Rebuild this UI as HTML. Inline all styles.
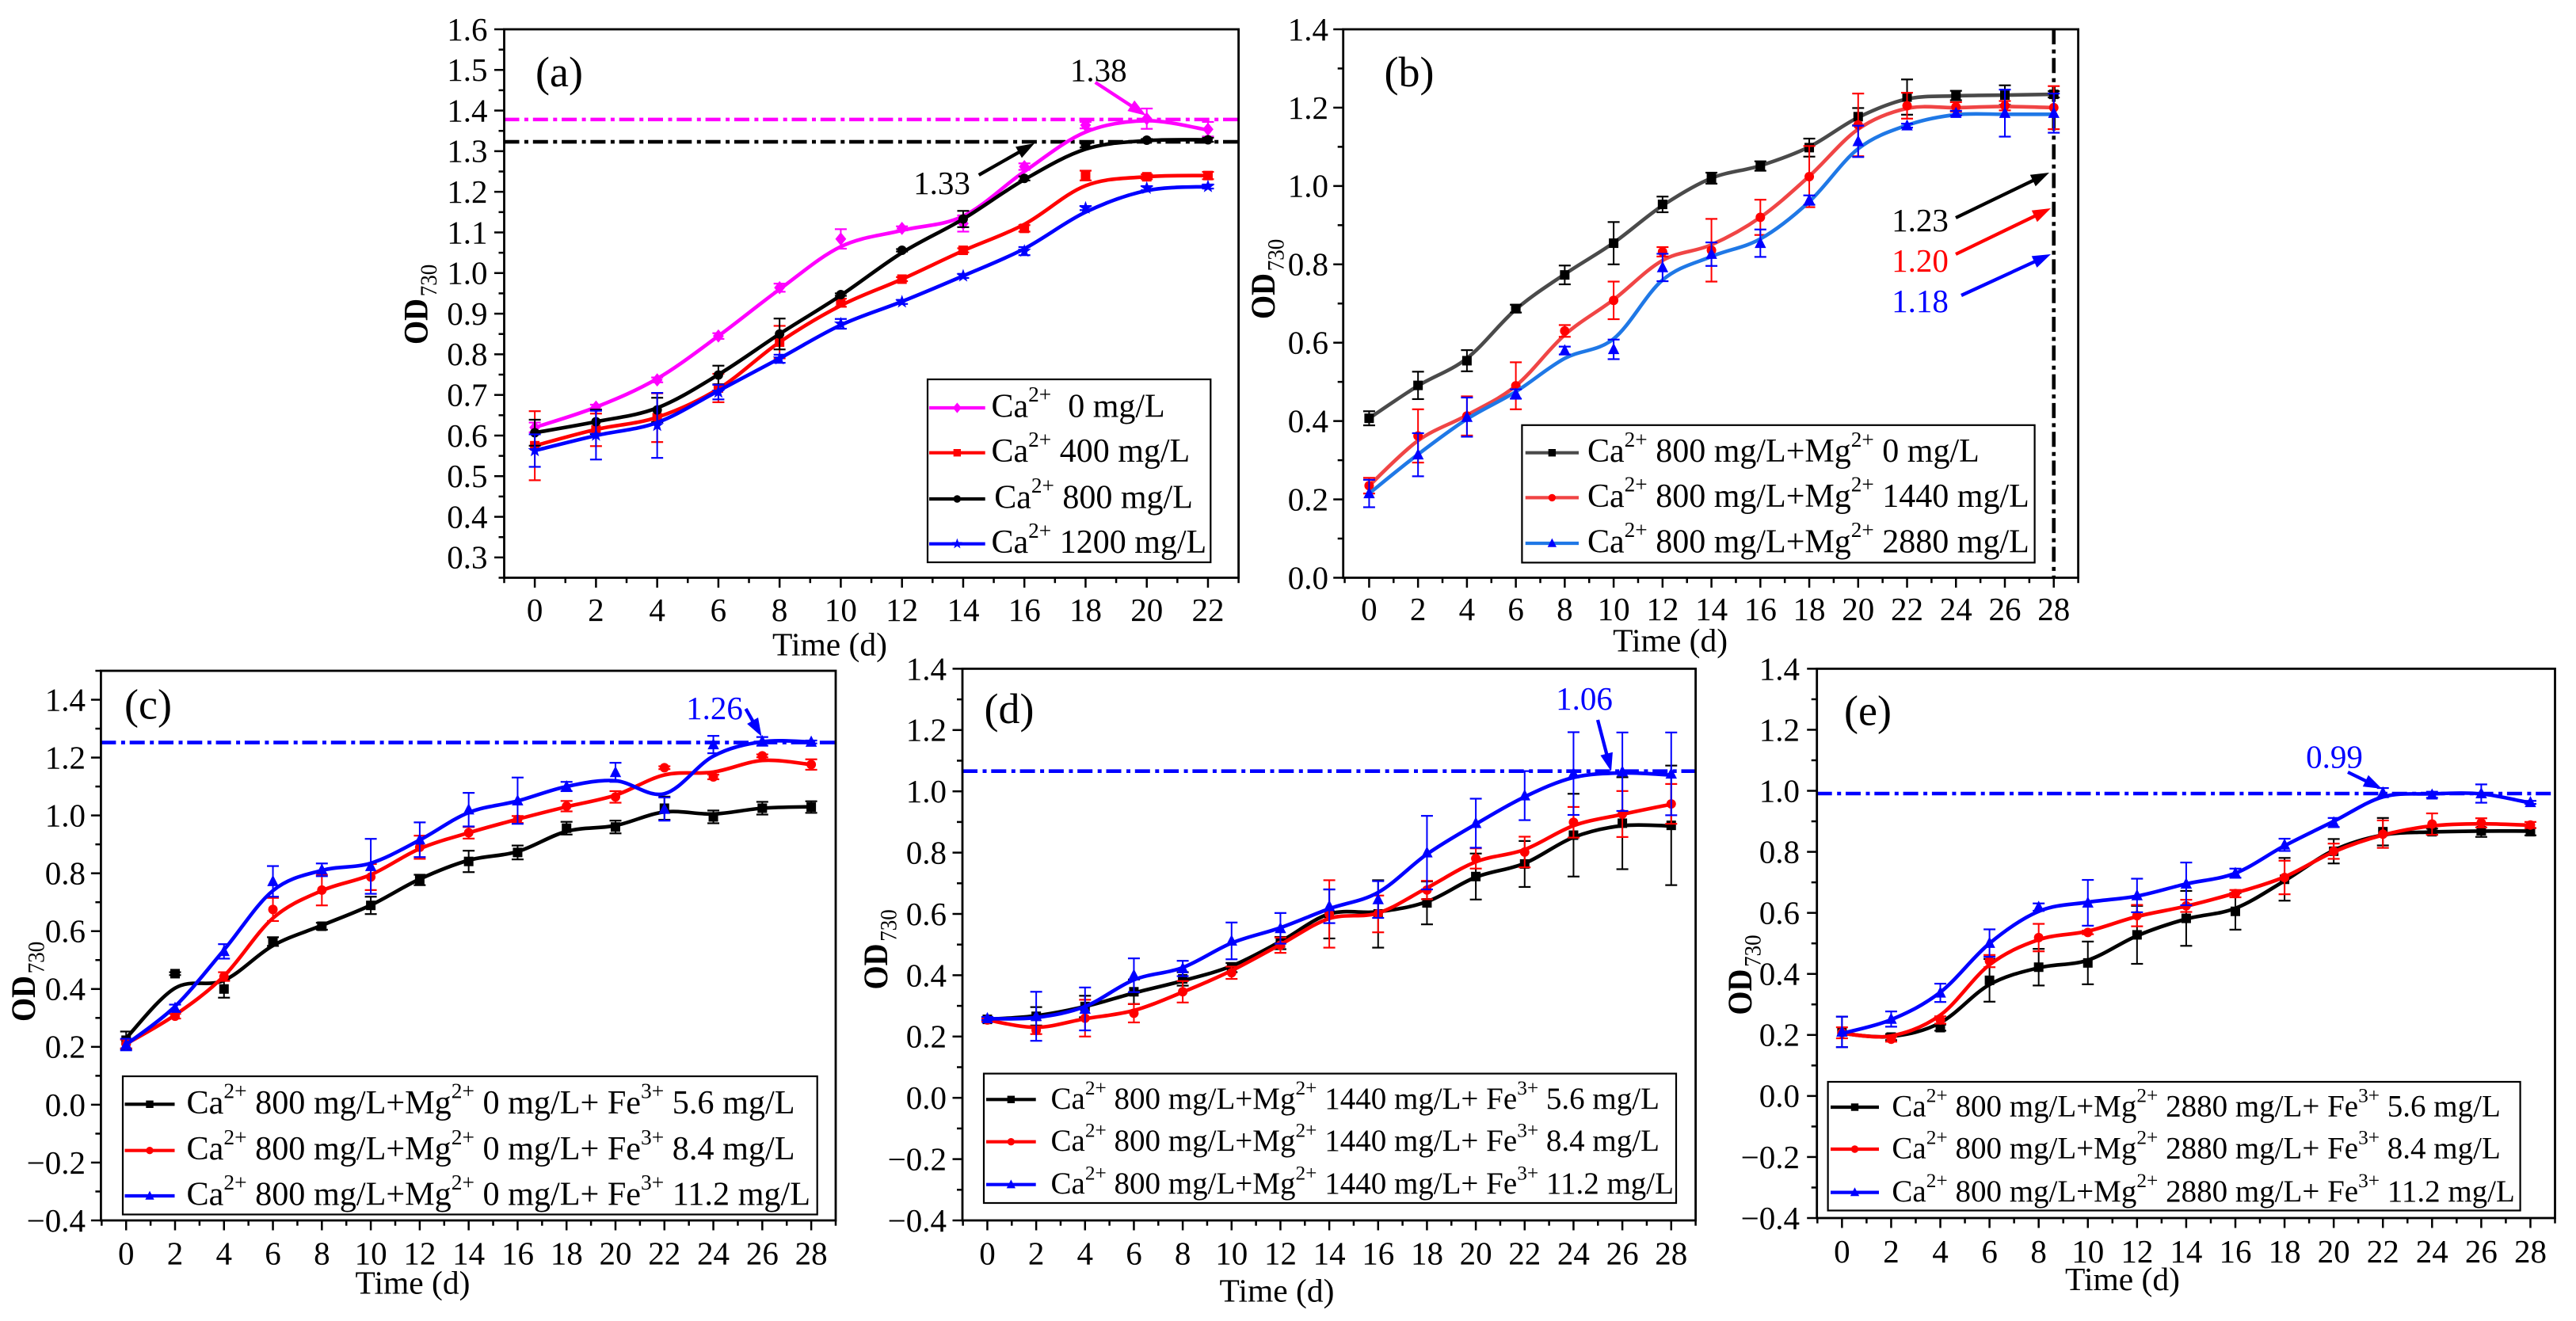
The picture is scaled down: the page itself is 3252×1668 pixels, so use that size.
<!DOCTYPE html>
<html lang="en">
<head>
<meta charset="utf-8">
<title>OD730 growth curves</title>
<style>
html,body{margin:0;padding:0;background:#fff;width:3252px;height:1668px;overflow:hidden}
svg{display:block;position:absolute;left:0;top:0}
text{font-family:"Liberation Serif","Times New Roman",serif;white-space:pre}
</style>
</head>
<body>
<svg id="fig" xmlns="http://www.w3.org/2000/svg" width="3252" height="1668" viewBox="0 0 3252 1668"></svg>
<script>
// ---------- shared categories ----------
const daysA = [0,2,4,6,8,10,12,14,16,18,20,22];
const daysLong = [0,2,4,6,8,10,12,14,16,18,20,22,24,26,28];
const yTicksA = ['0.3','0.4','0.5','0.6','0.7','0.8','0.9','1.0','1.1','1.2','1.3','1.4','1.5','1.6'];
const yTicksB = ['0.0','0.2','0.4','0.6','0.8','1.0','1.2','1.4'];
const yTicksC = ['\u22120.4','\u22120.2','0.0','0.2','0.4','0.6','0.8','1.0','1.2','1.4'];

// ---------- panel (a) ----------
const aMagentaVal = [.62,.67,.737,.845,.964,1.084,1.11,1.122,1.262,1.364,1.38,1.354];
const aMagentaFit = [.62,.67,.74,.845,.96,1.065,1.105,1.14,1.25,1.347,1.375,1.352];
const aMagentaErr = [.012,.006,.006,.007,.01,.024,.005,.02,.008,.008,.025,.018];
const aRedVal = [.575,.614,.644,.717,.83,.927,.985,1.056,1.11,1.24,1.237,1.24];
const aRedFit = [.575,.615,.645,.715,.83,.92,.985,1.055,1.12,1.215,1.237,1.24];
const aRedErr = [.085,.04,.06,.035,.04,.01,.005,.005,.008,.012,.006,.009];
const aBlackVal = [.607,.634,.663,.749,.85,.947,1.056,1.133,1.233,1.314,1.327,1.328];
const aBlackFit = [.607,.634,.668,.75,.85,.945,1.05,1.133,1.23,1.305,1.326,1.328];
const aBlackErr = [.032,.03,.03,.023,.038,.003,.003,.02,.005,.005,.003,.005];
const aBlueVal = [.563,.601,.625,.707,.789,.875,.929,.993,1.054,1.16,1.209,1.213];
const aBlueFit = [.563,.6,.632,.71,.79,.872,.93,.993,1.06,1.15,1.203,1.213];
const aBlueErr = [.04,.06,.08,.018,.01,.012,.005,.005,.01,.005,.005,.005];

// ---------- panel (b) ----------
const bBlackVal = [.407,.491,.554,.687,.773,.854,.953,1.02,1.051,1.098,1.177,1.227,1.231,1.232,1.234];
const bBlackFit = [.407,.49,.56,.685,.775,.855,.95,1.02,1.052,1.1,1.175,1.222,1.23,1.232,1.234];
const bBlackErr = [.018,.035,.027,.01,.024,.054,.02,.014,.012,.023,.022,.045,.012,.025,.008];
const bRedVal = [.235,.362,.413,.49,.63,.708,.832,.836,.92,1.024,1.156,1.205,1.202,1.205,1.2];
const bRedFit = [.235,.35,.415,.49,.62,.71,.81,.85,.92,1.025,1.145,1.198,1.2,1.203,1.2];
const bRedErr = [.02,.068,.05,.06,.015,.048,.012,.08,.045,.078,.08,.033,.012,.012,.055];
const bBlueVal = [.215,.314,.41,.469,.58,.583,.792,.826,.854,.964,1.114,1.154,1.186,1.186,1.186];
const bBlueFit = [.215,.315,.405,.475,.56,.61,.76,.82,.865,.96,1.095,1.155,1.182,1.183,1.183];
const bBlueErr = [.035,.055,.05,.012,.01,.025,.035,.03,.035,.012,.04,.005,.006,.06,.05];

// ---------- panel (c) ----------
const cBlackVal = [.223,.453,.4,.564,.617,.689,.777,.841,.872,.956,.96,1.025,.995,1.025,1.029];
const cBlackFit = [.23,.403,.43,.55,.62,.69,.78,.845,.875,.945,.965,1.012,1.005,1.025,1.03];
const cBlackErr = [.03,.005,.03,.015,.012,.03,.018,.037,.024,.022,.022,.04,.022,.022,.02];
const cRedVal = [.21,.306,.443,.675,.742,.787,.89,.94,.986,1.032,1.064,1.165,1.133,1.206,1.176];
const cRedFit = [.21,.31,.445,.645,.74,.795,.885,.94,.987,1.03,1.07,1.14,1.15,1.19,1.176];
const cRedErr = [.015,.008,.015,.04,.053,.045,.04,.02,.012,.018,.02,.005,.008,.005,.018];
const cBlueVal = [.208,.334,.53,.772,.812,.824,.916,1.02,1.051,1.1,1.149,1.022,1.245,1.256,1.254];
const cBlueFit = [.208,.34,.535,.74,.81,.835,.915,1.01,1.05,1.1,1.12,1.075,1.205,1.255,1.254];
const cBlueErr = [.02,.012,.025,.053,.022,.095,.06,.058,.08,.016,.033,.04,.03,.015,.005];

// ---------- panel (d) ----------
const dBlackVal = [.256,.266,.298,.346,.388,.425,.505,.6,.6,.636,.722,.763,.857,.896,.889];
const dBlackFit = [.256,.268,.298,.342,.382,.43,.51,.6,.607,.64,.72,.765,.85,.888,.887];
const dBlackErr = [.005,.03,.035,.04,.022,.015,.02,.08,.11,.07,.075,.075,.135,.15,.195];
const dRedVal = [.254,.22,.26,.276,.346,.408,.498,.6,.6,.678,.781,.802,.899,.926,.959];
const dRedFit = [.254,.23,.258,.285,.345,.415,.5,.585,.603,.685,.77,.81,.888,.925,.958];
const dRedErr = [.005,.012,.06,.03,.035,.02,.025,.11,.06,.03,.033,.05,.05,.075,.065];
const dBlueVal = [.259,.266,.29,.4,.422,.512,.553,.625,.647,.8,.896,.986,1.058,1.064,1.057];
const dBlueFit = [.258,.262,.298,.385,.425,.505,.555,.617,.67,.795,.893,.982,1.045,1.06,1.053];
const dBlueErr = [.005,.08,.07,.055,.025,.06,.05,.055,.06,.12,.08,.08,.135,.128,.135];

// ---------- panel (e) ----------
const eBlackVal = [.21,.193,.224,.379,.422,.436,.528,.582,.605,.71,.802,.866,.866,.869,.866];
const eBlackFit = [.205,.195,.24,.365,.42,.445,.525,.58,.615,.705,.805,.855,.865,.868,.868];
const eBlackErr = [.05,.01,.01,.07,.06,.07,.095,.09,.06,.07,.04,.045,.01,.02,.012];
const eRedVal = [.207,.186,.249,.442,.519,.536,.591,.623,.663,.716,.802,.858,.891,.895,.888];
const eRedFit = [.205,.197,.265,.43,.512,.54,.588,.622,.665,.718,.8,.855,.885,.892,.887];
const eRedErr = [.018,.008,.012,.02,.045,.006,.035,.02,.012,.055,.025,.045,.035,.015,.01];
const eBlueVal = [.21,.252,.338,.501,.619,.633,.657,.695,.73,.823,.896,.994,.987,.991,.962];
const eBlueFit = [.205,.25,.34,.5,.605,.635,.655,.695,.73,.82,.9,.98,.99,.99,.96];
const eBlueErr = [.05,.025,.03,.045,.012,.075,.055,.07,.015,.02,.015,.015,.01,.03,.005];

// ---------- helpers ----------
const NS = 'http://www.w3.org/2000/svg';
const fig = document.getElementById('fig');
const DASHDOT = '19 6.5 5 5.8';
function svgEl(tag, parent){
  const el = document.createElementNS(NS, tag);
  (parent || fig).appendChild(el);
  return el;
}
// "^{..}" in a string marks a superscript run.
function addText(parent, x, y, str, size, anchor, fill){
  const el = svgEl('text', parent);
  el.setAttribute('x', x);
  el.setAttribute('y', y);
  el.setAttribute('font-size', size);
  el.setAttribute('text-anchor', anchor || 'start');
  el.setAttribute('fill', fill || '#000');
  el.setAttribute('xml:space', 'preserve');
  const parts = str.split(/(\^\{[^}]*\})/);
  let shift = 0;
  parts.forEach(function(p){
    if (!p) return;
    const t = svgEl('tspan', el);
    const sup = p.charAt(0) === '^';
    const target = sup ? -0.46 * size : 0;
    if (target - shift) t.setAttribute('dy', target - shift);
    shift = target;
    if (sup) t.setAttribute('font-size', size * 0.65);
    t.textContent = sup ? p.slice(2, -1) : p;
  });
  return el;
}
function addMarker(parent, shape, cx, cy, r, color){
  let el;
  if (shape === 'circle'){
    el = svgEl('circle', parent);
    el.setAttribute('cx', cx); el.setAttribute('cy', cy); el.setAttribute('r', r);
  } else if (shape === 'square'){
    el = svgEl('rect', parent);
    el.setAttribute('x', cx - r); el.setAttribute('y', cy - r);
    el.setAttribute('width', 2 * r); el.setAttribute('height', 2 * r);
  } else {
    el = svgEl('polygon', parent);
    let pts = [];
    if (shape === 'diamond') pts = [[0,-1.4],[1.15,0],[0,1.4],[-1.15,0]];
    if (shape === 'triangle') pts = [[0,-1.35],[1.2,1],[-1.2,1]];
    if (shape === 'star'){
      for (let k = 0; k < 10; k++){
        const a = -Math.PI / 2 + k * Math.PI / 5, m = k % 2 ? 0.6 : 1.5;
        pts.push([m * Math.cos(a), m * Math.sin(a)]);
      }
    }
    el.setAttribute('points', pts.map(function(q){ return (cx + q[0] * r) + ',' + (cy + q[1] * r); }).join(' '));
  }
  el.setAttribute('fill', color);
  return el;
}
function addLine(parent, x1, y1, x2, y2, color, w, dash){
  const el = svgEl('line', parent);
  el.setAttribute('x1', x1); el.setAttribute('y1', y1);
  el.setAttribute('x2', x2); el.setAttribute('y2', y2);
  el.setAttribute('stroke', color); el.setAttribute('stroke-width', w);
  if (dash) el.setAttribute('stroke-dasharray', dash);
  return el;
}
function addArrow(parent, label, x1, y1, x2, y2, color){
  const g = svgEl('g', parent);
  
  
  const dx = x2 - x1, dy = y2 - y1, len = Math.hypot(dx, dy), ux = dx / len, uy = dy / len;
  const h = 23, wd = 8;
  addLine(g, x1, y1, x2 - ux * h * .8, y2 - uy * h * .8, color, 4.3);
  const head = svgEl('polygon', g);
  const bx = x2 - ux * h, by = y2 - uy * h;
  head.setAttribute('points', x2 + ',' + y2 + ' ' + (bx - uy * wd) + ',' + (by + ux * wd) + ' ' + (bx + uy * wd) + ',' + (by - ux * wd));
  head.setAttribute('fill', color);
}
function splinePath(pts){
  let d = 'M' + pts[0][0] + ' ' + pts[0][1];
  for (let i = 0; i < pts.length - 1; i++){
    const p0 = pts[Math.max(i - 1, 0)], p1 = pts[i], p2 = pts[i + 1], p3 = pts[Math.min(i + 2, pts.length - 1)];
    d += 'C' + (p1[0] + (p2[0] - p0[0]) / 6) + ' ' + (p1[1] + (p2[1] - p0[1]) / 6) + ' ' +
         (p2[0] - (p3[0] - p1[0]) / 6) + ' ' + (p2[1] - (p3[1] - p1[1]) / 6) + ' ' + p2[0] + ' ' + p2[1];
  }
  return d;
}

function drawPanel(c){
  const panel = svgEl('g');
  
  
  const sx = function(v){ return c.L + (v - c.xmin) / (c.xmax - c.xmin) * (c.R - c.L); };
  const sy = function(v){ return c.B - (v - c.ymin) / (c.ymax - c.ymin) * (c.B - c.T); };
  const fs = 41;

  // reference dash-dot lines
  (c.hlines || []).forEach(function(h){
    const l = addLine(panel, c.L, sy(h.v), c.R, sy(h.v), h.color, 4.6, DASHDOT);
    
    
  });
  if (c.vline !== undefined){
    const l = addLine(panel, sx(c.vline), c.T, sx(c.vline), c.B, '#000', 4.6, DASHDOT);
    
    
  }

  // series
  c.series.forEach(function(s){
    const g = svgEl('g', panel);
    
    
    const curve = svgEl('path', g);
    
    
    curve.setAttribute('d', splinePath(c.days.map(function(d, i){ return [sx(d), sy(s.fit[i])]; })));
    curve.setAttribute('fill', 'none');
    curve.setAttribute('stroke', s.line);
    curve.setAttribute('stroke-width', 4.6);
    c.days.forEach(function(d, i){
      const px = sx(d), top = sy(s.val[i] + s.err[i]), bot = sy(s.val[i] - s.err[i]);
      const eb = svgEl('g', g);
      
      
      addLine(eb, px, top, px, bot, s.mark, 2);
      addLine(eb, px - 7.5, top, px + 7.5, top, s.mark, 2.2);
      addLine(eb, px - 7.5, bot, px + 7.5, bot, s.mark, 2.2);
      const m = addMarker(g, s.shape, px, sy(s.val[i]), 6, s.mark);
      
      
    });
  });

  // frame
  const frame = svgEl('rect', panel);
  
  
  frame.setAttribute('x', c.L); frame.setAttribute('y', c.T);
  frame.setAttribute('width', c.R - c.L); frame.setAttribute('height', c.B - c.T);
  frame.setAttribute('fill', 'none'); frame.setAttribute('stroke', '#000'); frame.setAttribute('stroke-width', 2.8);

  // x axis
  const xAxis = svgEl('g', panel);
  
  
  for (let d = -1; d <= c.xmax; d++){
    const major = d >= 0 && d % 2 === 0 && d <= c.days[c.days.length - 1];
    addLine(xAxis, sx(d), c.B, sx(d), c.B + (major ? 12.5 : 6.7), '#000', 2.5);
    if (major) {
      const t = addText(xAxis, sx(d), c.xLabelY + .338 * fs, String(d), fs, 'middle');
      
      
    }
  }
  // y axis
  const yAxis = svgEl('g', panel);
  
  
  const majors = c.yTicks.map(function(t){ return parseFloat(t.replace('\u2212', '-')); });
  const stepY = majors[1] - majors[0];
  for (let k = -2; k <= majors.length * 2; k++){
    const v = majors[0] + k * stepY / 2;
    if (v < c.ymin - 1e-6 || v > c.ymax + 1e-6) continue;
    const major = k >= 0 && k % 2 === 0;
    addLine(yAxis, c.L - (major ? 12.5 : 7), sy(v), c.L, sy(v), '#000', 2.5);
  }
  c.yTicks.forEach(function(t, i){
    const el = addText(yAxis, c.yLabelR, sy(majors[i]) + .338 * fs, t, fs, 'end');
    
    
  });

  // axis titles
  const xt = addText(panel, c.xTitle[0], c.xTitle[1] + 13.5, 'Time (d)', 41.5, 'middle');
  
  
  const yt = svgEl('text', panel);
  
  
  yt.setAttribute('transform', 'translate(' + c.yTitle[0] + ',' + c.yTitle[1] + ') rotate(-90) scale(.9,1)');
  yt.setAttribute('font-size', 43);
  const od = svgEl('tspan', yt);
  od.setAttribute('font-weight', 'bold');
  od.textContent = 'OD';
  const sub = svgEl('tspan', yt);
  sub.setAttribute('font-size', 30);
  sub.setAttribute('dy', 11.4);
  sub.setAttribute('dx', 3);
  sub.textContent = '730';

  // panel label
  const pl = addText(panel, c.tag[0], c.tag[1] + 15, '(' + c.id + ')', 54, 'middle');
  
  

  // legend
  const lg = svgEl('g', panel);
  
  
  const box = svgEl('rect', lg);
  
  
  box.setAttribute('x', c.legend.x); box.setAttribute('y', c.legend.y);
  box.setAttribute('width', c.legend.w); box.setAttribute('height', c.legend.h);
  box.setAttribute('fill', '#fff'); box.setAttribute('stroke', '#000'); box.setAttribute('stroke-width', 2.2);
  c.legend.rows.forEach(function(ry, i){
    const s = c.series[i];
    const entry = svgEl('g', lg);
    
    
    addLine(entry, c.legend.hx1, ry, c.legend.hx2, ry, s.line, 4.2);
    addMarker(entry, s.shape, (c.legend.hx1 + c.legend.hx2) / 2, ry, 4.7, s.mark);
    addText(entry, c.legend.tx + (s.dx || 0), ry + 11.5, s.label, c.legend.size);
  });

  // value annotations
  (c.notes || []).forEach(function(n){
    const t = addText(panel, n.tx, n.ty + .338 * 41, n.text, 41, 'middle', n.tcolor || n.color);
    
    
    addArrow(panel, n.text, n.a[0], n.a[1], n.a[2], n.a[3], n.color);
  });
}

const BK = '#000000', RD = '#ff0000', BL = '#0000ff';

drawPanel({
  id:'a', L:636.5, R:1563.6, T:37, B:729.5, xmin:-1, xmax:23, ymin:.25, ymax:1.6,
  days:daysA, yTicks:yTicksA, yLabelR:615.5, xLabelY:770, xTitle:[1047.5,814], yTitle:[539.5,435], tag:[706,94],
  hlines:[{v:1.378,color:'#ff00ff'},{v:1.323,color:BK}],
  series:[
    {key:'ca-0',val:aMagentaVal,fit:aMagentaFit,err:aMagentaErr,line:'#ff00ff',mark:'#ff00ff',shape:'diamond',label:'Ca^{2+}  0 mg/L'},
    {key:'ca-400',val:aRedVal,fit:aRedFit,err:aRedErr,line:RD,mark:RD,shape:'square',label:'Ca^{2+} 400 mg/L'},
    {key:'ca-800',val:aBlackVal,fit:aBlackFit,err:aBlackErr,line:BK,mark:BK,shape:'circle',dx:3.7,label:'Ca^{2+} 800 mg/L'},
    {key:'ca-1200',val:aBlueVal,fit:aBlueFit,err:aBlueErr,line:BL,mark:BL,shape:'star',label:'Ca^{2+} 1200 mg/L'}
  ],
  legend:{x:1171,y:479,w:357.3,h:231,rows:[515,571.7,630,686.7],hx1:1173,hx2:1243.7,tx:1251.5,size:42},
  notes:[
    {text:'1.38',color:'#ff00ff',tcolor:BK,tx:1386.7,ty:88.7,a:[1382.7,104,1447,146]},
    {text:'1.33',color:BK,tx:1189,ty:231,a:[1235.7,221,1306,181]}
  ]
});

drawPanel({
  id:'b', L:1695.7, R:2623.6, T:37, B:729.5, xmin:-1.06, xmax:29, ymin:0, ymax:1.4,
  days:daysLong, yTicks:yTicksB, yLabelR:1677, xLabelY:769, xTitle:[2108.6,809], yTitle:[1609,403], tag:[1779,94],
  vline:28,
  series:[
    {key:'mg-0',val:bBlackVal,fit:bBlackFit,err:bBlackErr,line:'#4a4a4a',mark:BK,shape:'square',label:'Ca^{2+} 800 mg/L+Mg^{2+} 0 mg/L'},
    {key:'mg-1440',val:bRedVal,fit:bRedFit,err:bRedErr,line:'#f04545',mark:RD,shape:'circle',label:'Ca^{2+} 800 mg/L+Mg^{2+} 1440 mg/L'},
    {key:'mg-2880',val:bBlueVal,fit:bBlueFit,err:bBlueErr,line:'#1f78e6',mark:BL,shape:'triangle',label:'Ca^{2+} 800 mg/L+Mg^{2+} 2880 mg/L'}
  ],
  legend:{x:1921.4,y:536.8,w:647.2,h:173.6,rows:[571.7,628.4,686],hx1:1925.7,hx2:1993,tx:2004,size:42},
  notes:[
    {text:'1.23',color:BK,tx:2424,ty:278,a:[2469,275,2587,218]},
    {text:'1.20',color:RD,tx:2424,ty:329,a:[2469,321,2589,263]},
    {text:'1.18',color:BL,tx:2424,ty:380,a:[2476,373,2589,321]}
  ]
});

drawPanel({
  id:'c', L:127.4, R:1055, T:847, B:1541, xmin:-1.03, xmax:29, ymin:-.4, ymax:1.5,
  days:daysLong, yTicks:yTicksC, yLabelR:108, xLabelY:1582.5, xTitle:[521,1620], yTitle:[44,1290], tag:[187,892.5],
  hlines:[{v:1.252,color:BL}],
  series:[
    {key:'fe-5-6',val:cBlackVal,fit:cBlackFit,err:cBlackErr,line:BK,mark:BK,shape:'square',label:'Ca^{2+} 800 mg/L+Mg^{2+} 0 mg/L+ Fe^{3+} 5.6 mg/L'},
    {key:'fe-8-4',val:cRedVal,fit:cRedFit,err:cRedErr,line:RD,mark:RD,shape:'circle',label:'Ca^{2+} 800 mg/L+Mg^{2+} 0 mg/L+ Fe^{3+} 8.4 mg/L'},
    {key:'fe-11-2',val:cBlueVal,fit:cBlueFit,err:cBlueErr,line:BL,mark:BL,shape:'triangle',label:'Ca^{2+} 800 mg/L+Mg^{2+} 0 mg/L+ Fe^{3+} 11.2 mg/L'}
  ],
  legend:{x:155,y:1359,w:876.7,h:174.5,rows:[1394.3,1452.7,1510],hx1:157.5,hx2:220.5,tx:235.5,size:42.2},
  notes:[{text:'1.26',color:BL,tx:902,ty:894,a:[941.5,895,961.5,930]}]
});

drawPanel({
  id:'d', L:1215, R:2140.6, T:844.4, B:1541, xmin:-1.02, xmax:29, ymin:-.4, ymax:1.4,
  days:daysLong, yTicks:yTicksC, yLabelR:1195, xLabelY:1582.5, xTitle:[1612,1630], yTitle:[1120,1249.5], tag:[1274,898],
  hlines:[{v:1.066,color:BL}],
  series:[
    {key:'fe-5-6',val:dBlackVal,fit:dBlackFit,err:dBlackErr,line:BK,mark:BK,shape:'square',label:'Ca^{2+} 800 mg/L+Mg^{2+} 1440 mg/L+ Fe^{3+} 5.6 mg/L'},
    {key:'fe-8-4',val:dRedVal,fit:dRedFit,err:dRedErr,line:RD,mark:RD,shape:'circle',label:'Ca^{2+} 800 mg/L+Mg^{2+} 1440 mg/L+ Fe^{3+} 8.4 mg/L'},
    {key:'fe-11-2',val:dBlueVal,fit:dBlueFit,err:dBlueErr,line:BL,mark:BL,shape:'triangle',label:'Ca^{2+} 800 mg/L+Mg^{2+} 1440 mg/L+ Fe^{3+} 11.2 mg/L'}
  ],
  legend:{x:1242,y:1355.6,w:874,h:163.4,rows:[1388.3,1441.7,1495.7],hx1:1245,hx2:1307.7,tx:1326.5,size:39},
  notes:[{text:'1.06',color:BL,tx:2000,ty:882,a:[2017,909,2034,974]}]
});

drawPanel({
  id:'e', L:2293.7, R:3225.5, T:844.4, B:1538, xmin:-1.02, xmax:29, ymin:-.4, ymax:1.4,
  days:daysLong, yTicks:yTicksC, yLabelR:2272, xLabelY:1580, xTitle:[2679.5,1615.7], yTitle:[2211,1281.6], tag:[2358,900.5],
  hlines:[{v:.991,color:BL}],
  series:[
    {key:'fe-5-6',val:eBlackVal,fit:eBlackFit,err:eBlackErr,line:BK,mark:BK,shape:'square',label:'Ca^{2+} 800 mg/L+Mg^{2+} 2880 mg/L+ Fe^{3+} 5.6 mg/L'},
    {key:'fe-8-4',val:eRedVal,fit:eRedFit,err:eRedErr,line:RD,mark:RD,shape:'circle',label:'Ca^{2+} 800 mg/L+Mg^{2+} 2880 mg/L+ Fe^{3+} 8.4 mg/L'},
    {key:'fe-11-2',val:eBlueVal,fit:eBlueFit,err:eBlueErr,line:BL,mark:BL,shape:'triangle',label:'Ca^{2+} 800 mg/L+Mg^{2+} 2880 mg/L+ Fe^{3+} 11.2 mg/L'}
  ],
  legend:{x:2307.6,y:1366,w:874,h:162.5,rows:[1398,1451,1505.6],hx1:2311,hx2:2372,tx:2388.4,size:39},
  notes:[{text:'0.99',color:BL,tx:2947,ty:955.6,a:[2964,975,3007,996]}]
});
</script>
</body>
</html>
